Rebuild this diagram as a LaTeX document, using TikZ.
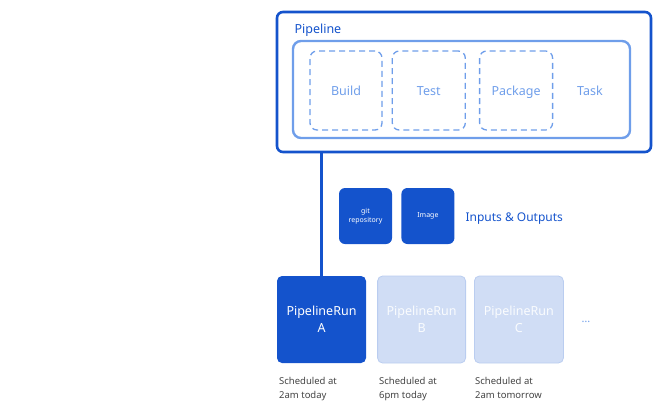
\documentclass[tikz,border=0pt]{standalone}
\usepackage{fontspec}
\setmainfont{Noto Sans}
\usepackage{xcolor}
\usepackage{tikz}
\usetikzlibrary{positioning}
\definecolor{deepblue}{HTML}{1453CC}
\definecolor{midblue}{HTML}{6F9EEA}
\definecolor{paleblue}{HTML}{D0DDF5}
\definecolor{paleedge}{HTML}{BACDF0}
\definecolor{notegray}{HTML}{444444}
\tikzset{
  pipebox/.style={rectangle, draw=deepblue, line width=2.6pt, rounded corners=6pt, minimum width=374pt, minimum height=140pt},
  taskrow/.style={rectangle, draw=midblue, line width=2.4pt, rounded corners=8pt, minimum width=337pt, minimum height=97pt},
  taskbox/.style={rectangle, draw=midblue, dashed, line width=1.3pt, dash pattern=on 6pt off 4pt, rounded corners=7pt, minimum height=79pt, text=midblue, text height=10pt, text depth=0pt, font=\fontsize{12.5}{14}\selectfont},
  iobox/.style={rectangle, fill=deepblue, rounded corners=6pt, minimum width=53pt, minimum height=56pt, text=white, align=center, font=\fontsize{7}{9}\selectfont},
  runbox/.style={rectangle, rounded corners=5pt, minimum height=87pt, align=center, font=\fontsize{12.5}{17}\selectfont},
  note/.style={anchor=north west, align=left, text=notegray, inner sep=0pt, font=\fontsize{9.5}{14}\selectfont},
}

\begin{document}
\begin{tikzpicture}[x=1pt, y=-1pt]
    \useasboundingbox (0,0) rectangle (660,407);
    \node[pipebox] (pipeline) at (464,82) {};
    \node[anchor=west, text=deepblue, font=\fontsize{12.5}{14}\selectfont] (pipelabel) at (291,30.5) {Pipeline};
    \node[taskrow] (tasks) at (461.5,89.5) {};
    \node[taskbox, minimum width=72pt] (build) at (346,90.5) {Build};
    \node[taskbox, minimum width=73pt, right=9pt of build] (test) {Test};
    \node[taskbox, minimum width=73pt, right=13pt of test] (package) {Package};
    \node[text=midblue, text height=10pt, text depth=0pt, font=\fontsize{12.5}{14}\selectfont] (task) at (590,90.5) {Task};
    \node[iobox] (git) at (365.5,216) {git\\repository};
    \node[iobox, right=9pt of git] (image) {Image};
    \node[anchor=west, text=deepblue, font=\fontsize{12}{14}\selectfont] (io) at (462,219) {Inputs \& Outputs};
    \node[runbox, fill=deepblue, text=white, minimum width=89pt] (runA) at (321.5,319.5) {PipelineRun\\A};
    \node[runbox, fill=paleblue, draw=paleedge, line width=0.8pt, text=white!90!paleblue, minimum width=88pt, right=11pt of runA] (runB) {PipelineRun\\B};
    \node[runbox, fill=paleblue, draw=paleedge, line width=0.8pt, text=white!90!paleblue, minimum width=89pt, right=8pt of runB] (runC) {PipelineRun\\C};
    \node[text=midblue, font=\fontsize{11}{12}\selectfont] (more) at (586,322) {\dots};
    \node[note] (noteA) at (279,377) {Scheduled at\\2am today};
    \node[note] (noteB) at (379,377) {Scheduled at\\6pm today};
    \node[note] (noteC) at (475,377) {Scheduled at\\2am tomorrow};
    \draw[deepblue, line width=2.2pt] (runA.north |- pipeline.south) -- (runA.north);
\end{tikzpicture}
\end{document}
